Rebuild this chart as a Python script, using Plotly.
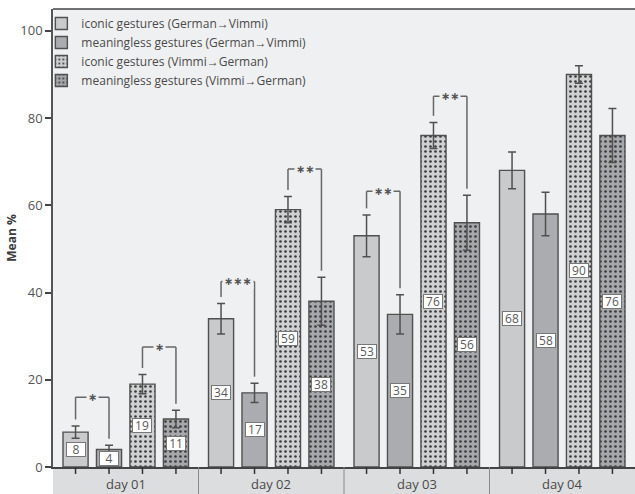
import plotly.graph_objects as go

# ---- data ----
days = ["day 01", "day 02", "day 03", "day 04"]
series_names = [
    "iconic gestures (German→Vimmi)",
    "meaningless gestures (German→Vimmi)",
    "iconic gestures (Vimmi→German)",
    "meaningless gestures (Vimmi→German)",
]
iconic_g2v = [8, 34, 53, 68]
iconic_g2v_err = [1.4, 3.5, 4.8, 4.2]
meaningless_g2v = [4, 17, 35, 58]
meaningless_g2v_err = [1.0, 2.2, 4.5, 5.0]
iconic_v2g = [19, 59, 76, 90]
iconic_v2g_err = [2.2, 3.0, 3.0, 2.0]
meaningless_v2g = [11, 38, 56, 76]
meaningless_v2g_err = [2.0, 5.5, 6.3, 6.2]

# significance brackets: (day index, left bar, right bar, bracket level, label)
brackets = [
    (0, 0, 1, 16.0, "*"),
    (0, 2, 3, 27.5, "*"),
    (1, 0, 1, 42.5, "***"),
    (1, 2, 3, 68.3, "**"),
    (2, 0, 1, 63.2, "**"),
    (2, 2, 3, 85.0, "**"),
]

# ---- styling ----
W, H = 635, 494
M_L, M_R, M_T, M_B = 53, 0, 9, 27
PLOT_H = H - M_T - M_B
PLOT_BG = "#eff0f1"
BAND_BG = "#dcdddf"
EDGE = "#505050"
TXT = "#4a4a4a"
FONT = "Open Sans"

BARGAP = 0.08
BARGROUPGAP = 0.25
N_SERIES = 4
slot = (1 - BARGAP) / N_SERIES
offsets = [-(1 - BARGAP) / 2 + slot * (k + 0.5) for k in range(N_SERIES)]

values = [iconic_g2v, meaningless_g2v, iconic_v2g, meaningless_v2g]
errors = [iconic_g2v_err, meaningless_g2v_err, iconic_v2g_err, meaningless_v2g_err]
fills = ["#c9cacc", "#abacaf", "#cfd0d2", "#a6a7aa"]
dotted = [False, False, True, True]

fig = go.Figure()
for name, vals, errs, fill, dots in zip(series_names, values, errors, fills, dotted):
    marker = dict(color=fill, line=dict(color=EDGE, width=1.4))
    if dots:
        marker["pattern"] = dict(shape=".", size=5, solidity=0.22,
                                 fgcolor="#3a3a3a", bgcolor=fill, fillmode="replace")
    fig.add_trace(go.Bar(
        x=days, y=vals, name=name, marker=marker,
        error_y=dict(type="data", array=errs, visible=True,
                     color=EDGE, thickness=1.5, width=4),
    ))

annotations = []
shapes = []

# value boxes at mid-height of every bar
for k, vals in enumerate(values):
    for i, v in enumerate(vals):
        annotations.append(dict(
            x=i + offsets[k], y=v / 2, xref="x", yref="y",
            text=str(v), showarrow=False, width=18, height=13,
            font=dict(family=FONT, size=12, color="#5a5a5a"),
            bgcolor="white", bordercolor="#777777", borderwidth=1, borderpad=0,
        ))

# significance brackets
for day, a, b, level, label in brackets:
    xa, xb = day + offsets[a], day + offsets[b]
    ya = values[a][day] + errors[a][day] + 1.5
    yb = values[b][day] + errors[b][day] + 1.5
    line = dict(color="#666666", width=1.5)
    shapes.append(dict(type="line", xref="x", yref="y", x0=xa, x1=xa, y0=ya, y1=level, line=line))
    shapes.append(dict(type="line", xref="x", yref="y", x0=xb, x1=xb, y0=yb, y1=level, line=line))
    shapes.append(dict(type="line", xref="x", yref="y", x0=xa, x1=xb, y0=level, y1=level, line=line))
    annotations.append(dict(
        x=(xa + xb) / 2, y=level, xref="x", yref="y",
        text="<b>" + label.replace("*", "∗") + "</b>", showarrow=False,
        font=dict(family="DejaVu Sans", size=11, color="#555555"),
        bgcolor=PLOT_BG, borderpad=1,
    ))

# category band below the plot
band_h = M_B / PLOT_H
shapes.append(dict(type="rect", xref="paper", yref="paper", x0=0, x1=1, y0=-band_h, y1=0,
                   fillcolor=BAND_BG, line=dict(width=0), layer="below"))
n_days = len(days)
for i in range(1, n_days):
    shapes.append(dict(type="line", xref="paper", yref="paper", x0=i / n_days, x1=i / n_days,
                       y0=-band_h, y1=0, line=dict(color="#8a8a8a", width=1)))
for i in range(n_days):
    for off in offsets:
        px = (i + 0.5 + off) / n_days
        shapes.append(dict(type="line", xref="paper", yref="paper", x0=px, x1=px,
                           y0=0, y1=-7 / PLOT_H, line=dict(color="#333333", width=1.5)))
    annotations.append(dict(
        x=(i + 0.5) / n_days, y=-17 / PLOT_H, xref="paper", yref="paper",
        text=days[i], showarrow=False, xanchor="center", yanchor="middle",
        font=dict(family=FONT, size=13, color=TXT),
    ))

# top frame line
shapes.append(dict(type="line", xref="paper", yref="paper", x0=0, x1=1, y0=1, y1=1,
                   line=dict(color="#444444", width=1.5)))

fig.update_layout(
    width=W, height=H,
    margin=dict(l=M_L, r=M_R, t=M_T, b=M_B),
    paper_bgcolor="white", plot_bgcolor=PLOT_BG,
    barmode="group", bargap=BARGAP, bargroupgap=BARGROUPGAP,
    font=dict(family=FONT, color=TXT),
    showlegend=True,
    legend=dict(x=-0.02, y=1.0, xanchor="left", yanchor="top",
                bgcolor="rgba(0,0,0,0)", font=dict(family=FONT, size=12, color=TXT),
                tracegroupgap=0, itemwidth=30),
    xaxis=dict(showticklabels=False, ticks="", showline=True, linecolor="#444444",
               linewidth=1.5, showgrid=False, zeroline=False, range=[-0.5, 3.5]),
    yaxis=dict(range=[0, 105], tickvals=[0, 20, 40, 60, 80, 100], ticks="outside",
               ticklen=6, tickwidth=1.5, tickcolor="#444444",
               showline=True, linecolor="#555555", linewidth=1.5,
               showgrid=False, zeroline=False,
               tickfont=dict(family=FONT, size=13, color="#555555"),
               title=dict(text="<b>Mean %</b>", standoff=1,
                          font=dict(family=FONT, size=12, color="#3a3a3a")),
               automargin=False),
    annotations=annotations,
    shapes=shapes,
)

fig.write_html("out.html")
